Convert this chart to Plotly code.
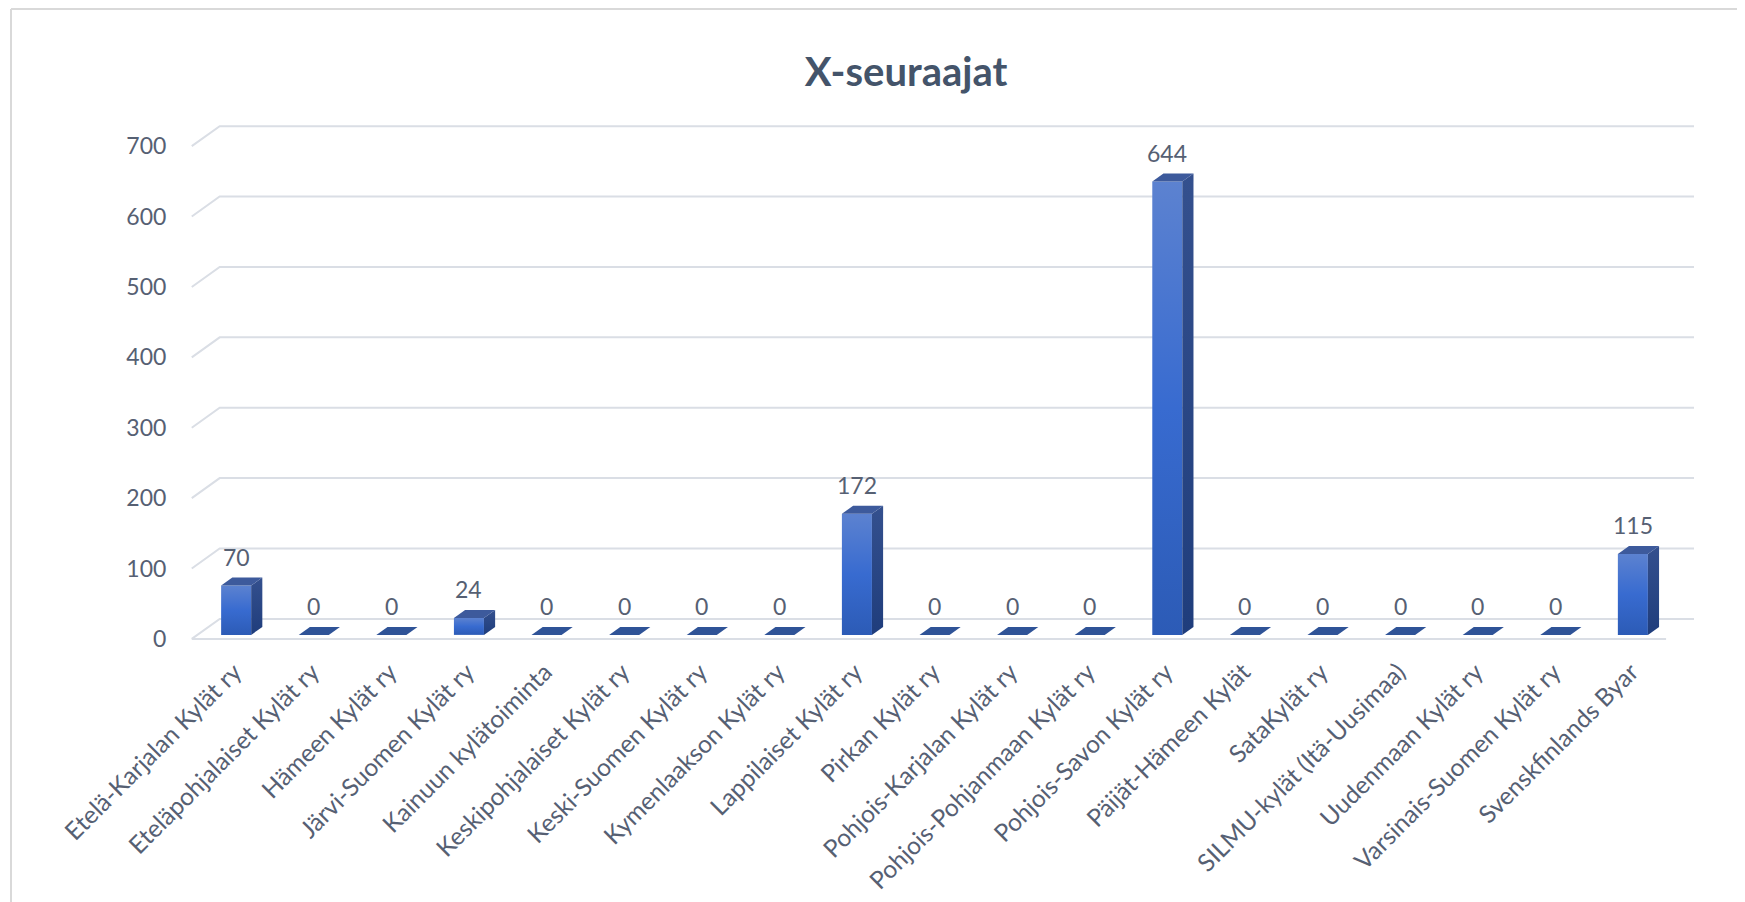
import plotly.graph_objects as go

categories = [
    "Etelä-Karjalan Kylät ry", "Eteläpohjalaiset Kylät ry", "Hämeen Kylät ry",
    "Järvi-Suomen Kylät ry", "Kainuun kylätoiminta", "Keskipohjalaiset Kylät ry",
    "Keski-Suomen Kylät ry", "Kymenlaakson Kylät ry", "Lappilaiset Kylät ry",
    "Pirkan Kylät ry", "Pohjois-Karjalan Kylät ry", "Pohjois-Pohjanmaan Kylät ry",
    "Pohjois-Savon Kylät ry", "Päijät-Hämeen Kylät", "SataKylät ry",
    "SILMU-kylät (Itä-Uusimaa)", "Uudenmaan Kylät ry", "Varsinais-Suomen Kylät ry",
    "Svenskfinlands Byar",
]
values = [70, 0, 0, 24, 0, 0, 0, 0, 172, 0, 0, 0, 644, 0, 0, 0, 0, 0, 115]
y_ticks = [0, 100, 200, 300, 400, 500, 600, 700]
title_text = "X-seuraajat"

# 3D projection (depth offsets, in axis units)
DX = 0.36      # category units for full floor depth
DY = 28.4      # value units for full floor depth
D_FRONT = 0.2  # bar front depth fraction
D_BAR = 0.4    # bar depth fraction
BW = 0.387     # bar width in category units

n = len(categories)
x_lo, x_hi = -0.5, n - 0.5

W, H = 1737, 894          # page body has an 8px margin
L, R, T, B = 176, 44, 110, 261
PW, PH = W - L - R, H - T - B

GRID = "#dadee5"
TXT = "#566073"
FONT = "Lato"

fig = go.Figure()

for v in y_ticks:
    fig.add_trace(go.Scatter(
        x=[x_lo, x_lo + DX, x_hi + DX], y=[v, v + DY, v + DY],
        mode="lines", line=dict(color=GRID, width=2),
        hoverinfo="skip", showlegend=False))
fig.add_trace(go.Scatter(
    x=[x_lo, x_hi], y=[0, 0], mode="lines", line=dict(color=GRID, width=2),
    hoverinfo="skip", showlegend=False))

front_scale = [[0, "#2c5bb6"], [0.5, "#386bd0"], [1, "#5c82d0"]]
side_scale = [[0, "#1f3d7c"], [1, "#34508e"]]
sx = D_BAR * DX
sy = D_BAR * DY

for i, v in enumerate(values):
    xf0 = i - BW / 2 + D_FRONT * DX
    xf1 = i + BW / 2 + D_FRONT * DX
    yb = D_FRONT * DY
    yt = v + D_FRONT * DY
    if v > 0:
        fig.add_trace(go.Scatter(
            x=[xf0, xf1, xf1, xf0, xf0], y=[yb, yb, yt, yt, yb],
            mode="lines", line=dict(width=0), fill="toself",
            fillgradient=dict(type="vertical", colorscale=front_scale),
            hoverinfo="skip", showlegend=False))
        fig.add_trace(go.Scatter(
            x=[xf1, xf1 + sx, xf1 + sx, xf1, xf1],
            y=[yb, yb + sy, yt + sy, yt, yb],
            mode="lines", line=dict(width=0), fill="toself",
            fillgradient=dict(type="vertical", colorscale=side_scale),
            hoverinfo="skip", showlegend=False))
    fig.add_trace(go.Scatter(
        x=[xf0, xf1, xf1 + sx, xf0 + sx, xf0],
        y=[yt, yt, yt + sy, yt + sy, yt],
        mode="lines", line=dict(width=0), fill="toself",
        fillcolor="#3d5a9c" if v > 0 else "#2f5397",
        hoverinfo="skip", showlegend=False))
    fig.add_annotation(
        x=i + D_FRONT * DX, y=v + (D_FRONT + D_BAR) * DY,
        text=str(v), showarrow=False, xanchor="center", yanchor="bottom",
        yshift=5, font=dict(family=FONT, size=23, color=TXT))

bx = (3 - L) / PW
fig.update_layout(
    width=W, height=H,
    margin=dict(l=L, r=R, t=T, b=B, autoexpand=False),
    paper_bgcolor="white", plot_bgcolor="white",
    title=dict(text=f"<b>{title_text}</b>", x=898 / W, xref="container",
               xanchor="center", y=1 - 64 / H, yref="container",
               yanchor="middle",
               font=dict(family=FONT, size=40, color="#44546a")),
    xaxis=dict(range=[x_lo - 0.1, x_hi + DX + 0.09], automargin=False,
               tickvals=[i + D_FRONT * DX - 0.02 for i in range(n)],
               ticktext=categories, tickangle=-45,
               ticks="outside", ticklen=6, tickcolor="rgba(0,0,0,0)",
               showgrid=False, zeroline=False, showline=False,
               tickfont=dict(family=FONT, size=24.5, color=TXT)),
    yaxis=dict(range=[-3, 740], tickvals=y_ticks, automargin=False,
               ticks="outside", ticklen=12, tickcolor="rgba(0,0,0,0)",
               showgrid=False, zeroline=False, showline=False,
               tickfont=dict(family=FONT, size=23, color=TXT)),
    shapes=[
        dict(type="line", xref="paper", yref="paper",
             x0=bx, x1=(W - L) / PW,
             y0=1 + (T - 1) / PH, y1=1 + (T - 1) / PH,
             line=dict(color="#d9d9d9", width=2)),
        dict(type="line", xref="paper", yref="paper",
             x0=bx, x1=bx,
             y0=1 + (T - 1) / PH, y1=-B / PH,
             line=dict(color="#d9d9d9", width=2)),
    ],
)

fig.write_html("out.html")
